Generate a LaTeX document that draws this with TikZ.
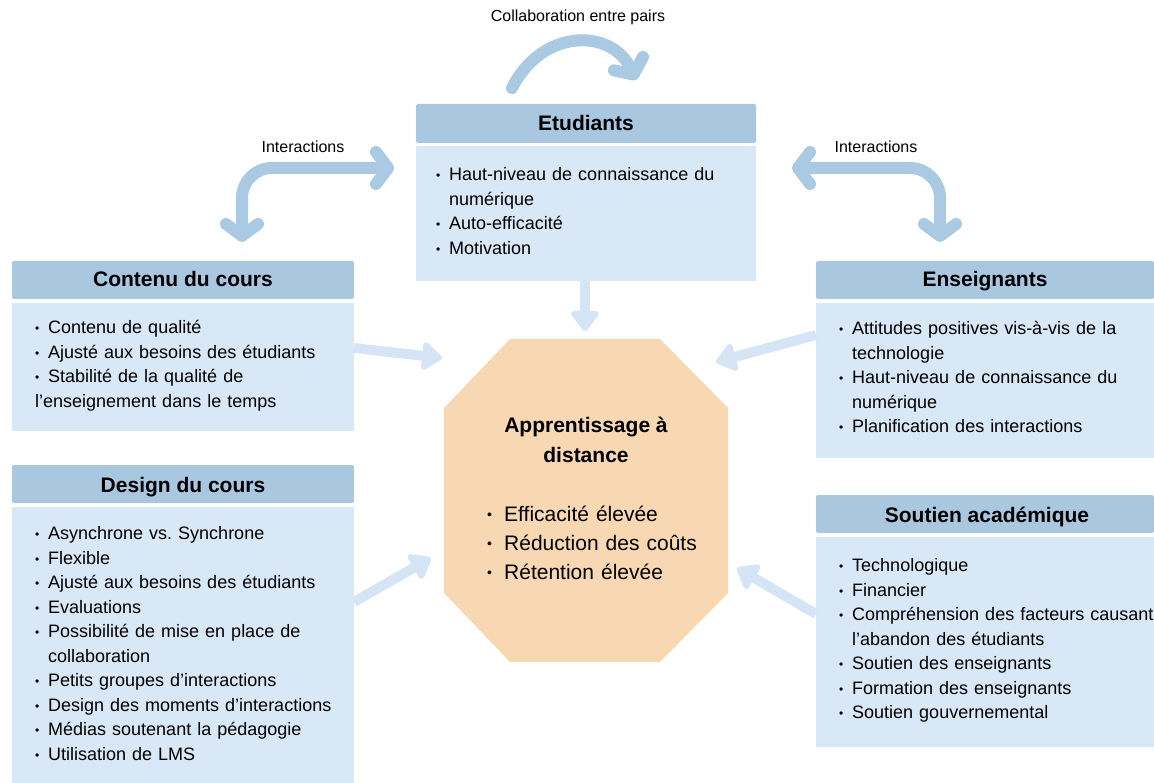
\documentclass[tikz,border=0pt]{standalone}
\usepackage{fontspec}
\setmainfont{Liberation Sans}
\usetikzlibrary{arrows.meta}
\definecolor{hdr}{HTML}{A9C8E0}
\definecolor{bdy}{HTML}{D9E8F6}
\definecolor{arl}{HTML}{D5E5F5}
\definecolor{ard}{HTML}{A9CAE2}
\definecolor{oct}{HTML}{F8D8B3}
\setlength\parskip{0pt}
\newcommand\bul{\makebox[13pt][l]{\rule{0pt}{18pt}\raisebox{1pt}{\fontsize{12}{12}\selectfont\textbullet}}}
\newcommand\itm[1]{\par\noindent\hangindent=13pt\hangafter=1\bul#1}
\newcommand\itmo[1]{\par\noindent\hangindent=17pt\hangafter=1\makebox[17pt][l]{\rule{0pt}{22pt}\raisebox{1.5pt}{\fontsize{14}{14}\selectfont\textbullet}}#1}
\begin{document}
\begin{tikzpicture}[x=1pt,y=-1pt,
  hdrbox/.style={fill=hdr, draw=none, rounded corners=2pt, inner sep=0pt, outer sep=0pt, anchor=north west},
  bdybox/.style={fill=bdy, draw=none, inner sep=0pt, outer sep=0pt, anchor=north west},
  hdrtext/.style={anchor=base, inner sep=0pt, font=\fontsize{21}{25}\selectfont\bfseries},
  bodytext/.style={anchor=north west, inner sep=0pt, text width=340pt, align=left, font=\fontsize{18}{24.5}\selectfont},
  lbl/.style={anchor=base, inner sep=0pt, font=\fontsize{16}{19}\selectfont},
  larrow/.style={draw=arl, line width=10pt, -{Triangle[length=22pt,width=32pt,round]}},
  darrow/.style={draw=ard, line width=12pt, line cap=round},
  barb/.tip={Straight Barb[length=12pt,width=32pt,round]}
]
\useasboundingbox (0,0) rectangle (1154,783);

% octagon
\fill[oct] (510,339) -- (660,339) -- (728,408) -- (728,593) -- (660,662) -- (510,662) -- (444,593) -- (444,408) -- cycle;
\node[anchor=north, inner sep=0pt, align=center, font=\fontsize{21}{30}\selectfont\bfseries] (octtitle) at (586,410) {\rule{0pt}{22pt}Apprentissage à\\distance};
\node[anchor=north west, inner sep=0pt, text width=260pt, align=left, font=\fontsize{21}{29}\selectfont] (octlist) at (487,492) {%
\itmo{Efficacité élevée}
\itmo{Réduction des coûts}
\itmo{Rétention élevée}};

% Etudiants
\node[hdrbox, minimum width=340pt, minimum height=39pt] (eh) at (416,104) {};
\node[bdybox, minimum width=340pt, minimum height=135pt] (eb) at (416,146) {};
\node[hdrtext] (eht) at (586,131) {Etudiants};
\node[bodytext] (ebt) at (436,156) {%
\itm{Haut-niveau de connaissance du\newline numérique}
\itm{Auto-efficacité}
\itm{Motivation}};

% Contenu du cours
\node[hdrbox, minimum width=342pt, minimum height=38pt] (ch) at (12,261) {};
\node[bdybox, minimum width=342pt, minimum height=128pt] (cb) at (12,303) {};
\node[hdrtext] (cht) at (183,287) {Contenu du cours};
\node[bodytext] (cbt) at (35,309) {%
\itm{Contenu de qualité}
\itm{Ajusté aux besoins des étudiants}
\itm{Stabilité de la qualité de\newline l’enseignement dans le temps}};

% Design du cours
\node[hdrbox, minimum width=342pt, minimum height=38pt] (dh) at (12,465) {};
\node[bdybox, minimum width=342pt, minimum height=276pt] (db) at (12,507) {};
\node[hdrtext] (dht) at (183,492) {Design du cours};
\node[bodytext] (dbt) at (35,515) {%
\itm{Asynchrone vs.\ Synchrone}
\itm{Flexible}
\itm{Ajusté aux besoins des étudiants}
\itm{Evaluations}
\itm{Possibilité de mise en place de\newline collaboration}
\itm{Petits groupes d’interactions}
\itm{Design des moments d’interactions}
\itm{Médias soutenant la pédagogie}
\itm{Utilisation de LMS}};

% Enseignants
\node[hdrbox, minimum width=338pt, minimum height=38pt] (nh) at (816,261) {};
\node[bdybox, minimum width=338pt, minimum height=155pt] (nb) at (816,303) {};
\node[hdrtext] (nht) at (985,287) {Enseignants};
\node[bodytext] (nbt) at (839,310) {%
\itm{Attitudes positives vis-à-vis de la\newline technologie}
\itm{Haut-niveau de connaissance du\newline numérique}
\itm{Planification des interactions}};

% Soutien academique
\node[hdrbox, minimum width=338pt, minimum height=38pt] (sh) at (816,495) {};
\node[bdybox, minimum width=338pt, minimum height=210pt] (sb) at (816,537) {};
\node[hdrtext] (sht) at (987,522) {Soutien académique};
\node[bodytext] (sbt) at (839,547) {%
\itm{Technologique}
\itm{Financier}
\itm{Compréhension des facteurs causant\newline l’abandon des étudiants}
\itm{Soutien des enseignants}
\itm{Formation des enseignants}
\itm{Soutien gouvernemental}};

% labels
\node[lbl] (lc) at (578,22) {Collaboration entre pairs};
\node[lbl] (li1) at (303,153) {Interactions};
\node[lbl] (li2) at (876,153) {Interactions};

% light arrows
\coordinate (a1s) at (354,348); \coordinate (a1e) at (442,358);
\coordinate (a2s) at (816,335); \coordinate (a2e) at (716,362);
\coordinate (a3s) at (354,602); \coordinate (a3e) at (431,558);
\coordinate (a4s) at (816,614); \coordinate (a4e) at (737,568);
\coordinate (a5s) at (585,281); \coordinate (a5e) at (585,331);
\draw[larrow] (a1s) -- (a1e);
\draw[larrow] (a2s) -- (a2e);
\draw[larrow] (a3s) -- (a3e);
\draw[larrow] (a4s) -- (a4e);
\draw[larrow] (a5s) -- (a5e);

% dark arrows
\coordinate (t1) at (512,88); \coordinate (t2) at (636,80);
\draw[darrow, -barb] (t1) .. controls (542,28) and (612,28) .. (t2);
\coordinate (i1s) at (242,242); \coordinate (i1e) at (394,168);
\draw[darrow, rounded corners=30pt, barb-barb] (i1s) |- (i1e);
\coordinate (i2s) at (792,168); \coordinate (i2e) at (940,242);
\draw[darrow, rounded corners=30pt, barb-barb] (i2s) -| (i2e);
\end{tikzpicture}
\end{document}
